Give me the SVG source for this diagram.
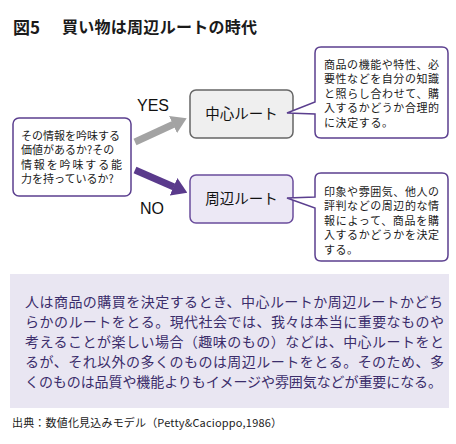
<svg xmlns="http://www.w3.org/2000/svg" width="456" height="444" viewBox="0 0 456 444">
<style>
text{font-family:"Noto Sans CJK JP","Noto Sans",sans-serif;fill:#1a1a1a}
.t{font-weight:bold;font-size:16px}
.sm{font-size:11px}
.rt{font-size:14.5px;text-anchor:middle;fill:#111}
.lab{font-family:"Liberation Sans",Arial,sans-serif;font-size:16px;fill:#111}
.body{font-size:14px;fill:#3b2d6b}
.pbox{fill:#fff;stroke:#5b3f8f;stroke-width:1.5}
.foot{font-size:11px;fill:#222}
</style>
<defs>
<marker id="hg" markerUnits="userSpaceOnUse" markerWidth="15" markerHeight="19" viewBox="0 0 15 19" refX="0.5" refY="9.5" orient="auto"><path d="M0 0 L15 9.5 L0 19 Z" fill="#a3a3a3"/></marker>
<marker id="hp" markerUnits="userSpaceOnUse" markerWidth="15" markerHeight="19" viewBox="0 0 15 19" refX="0.5" refY="9.5" orient="auto"><path d="M0 0 L15 9.5 L0 19 Z" fill="#5a3a8c"/></marker>
</defs>
<rect width="456" height="444" fill="#fff"/>
<g id="title">
<text class="t" x="13" y="34" style="font-size:17px">図5</text>
<text class="t" x="62" y="33" textLength="195" lengthAdjust="spacing">買い物は周辺ルートの時代</text>
</g>
<g id="question">
<rect x="13" y="118" width="118" height="78" rx="6" class="pbox"/>
<text class="sm" x="21" y="139.5">その情報を吟味する</text>
<text class="sm" x="21" y="154">価値があるか?その</text>
<text class="sm" x="21" y="168.5" textLength="101" lengthAdjust="spacing">情報を吟味する能</text>
<text class="sm" x="21" y="183">力を持っているか?</text>
</g>
<g id="connectors">
<line x1="135" y1="142" x2="173.5" y2="124.3" stroke="#a3a3a3" stroke-width="7" marker-end="url(#hg)"/>
<line x1="135" y1="170" x2="174" y2="187" stroke="#5a3a8c" stroke-width="7" marker-end="url(#hp)"/>
<text class="lab" x="137" y="111">YES</text>
<text class="lab" x="140" y="214">NO</text>
</g>
<g id="central">
<rect x="190" y="90" width="103" height="48" rx="6" fill="#efefef" stroke="#666" stroke-width="1.5"/>
<text class="rt" x="241.5" y="119">中心ルート</text>
</g>
<g id="peripheral">
<rect x="190" y="175" width="103" height="48" rx="6" fill="#ece8f5" stroke="#6a4c9c" stroke-width="1.5"/>
<text class="rt" x="241.5" y="204">周辺ルート</text>
</g>
<g id="callout-central">
<path class="pbox" d="M321 47 H442 Q448 47 448 53 V132 Q448 138 442 138 H321 Q315 138 315 132 V114 L287 113 L315 102 V53 Q315 47 321 47 Z"/>
<text class="sm" x="324" y="68.5" textLength="115" lengthAdjust="spacing">商品の機能や特性、必</text>
<text class="sm" x="324" y="83" textLength="115" lengthAdjust="spacing">要性などを自分の知識</text>
<text class="sm" x="324" y="97.5" textLength="115" lengthAdjust="spacing">と照らし合わせて、購</text>
<text class="sm" x="324" y="112" textLength="115" lengthAdjust="spacing">入するかどうか合理的</text>
<text class="sm" x="324" y="126.5" textLength="69" lengthAdjust="spacing">に決定する。</text>
</g>
<g id="callout-peripheral">
<path class="pbox" d="M321 173 H442 Q448 173 448 179 V255 Q448 261 442 261 H321 Q315 261 315 255 V208 L287 198 L315 197 V179 Q315 173 321 173 Z"/>
<text class="sm" x="324" y="195.5" textLength="115" lengthAdjust="spacing">印象や雰囲気、他人の</text>
<text class="sm" x="324" y="210" textLength="115" lengthAdjust="spacing">評判などの周辺的な情</text>
<text class="sm" x="324" y="224.5" textLength="115" lengthAdjust="spacing">報によって、商品を購</text>
<text class="sm" x="324" y="239" textLength="115" lengthAdjust="spacing">入するかどうかを決定</text>
<text class="sm" x="324" y="253.5" textLength="34" lengthAdjust="spacing">する。</text>
</g>
<g id="summary">
<rect x="10" y="274" width="439" height="134" fill="#e9e6f2"/>
<text class="body" x="25" y="307" textLength="418" lengthAdjust="spacing">人は商品の購買を決定するとき、中心ルートか周辺ルートかどち</text>
<text class="body" x="25" y="327" textLength="419" lengthAdjust="spacing">らかのルートをとる。現代社会では、我々は本当に重要なものや</text>
<text class="body" x="25" y="347" textLength="419" lengthAdjust="spacing">考えることが楽しい場合（趣味のもの）などは、中心ルートをと</text>
<text class="body" x="25" y="367" textLength="419" lengthAdjust="spacing">るが、それ以外の多くのものは周辺ルートをとる。そのため、多</text>
<text class="body" x="25" y="387" textLength="417" lengthAdjust="spacing">くのものは品質や機能よりもイメージや雰囲気などが重要になる。</text>
</g>
<g id="source">
<text class="foot" x="12" y="427" textLength="270" lengthAdjust="spacing">出典：数値化見込みモデル（Petty&amp;Cacioppo,1986）</text>
</g>
</svg>
